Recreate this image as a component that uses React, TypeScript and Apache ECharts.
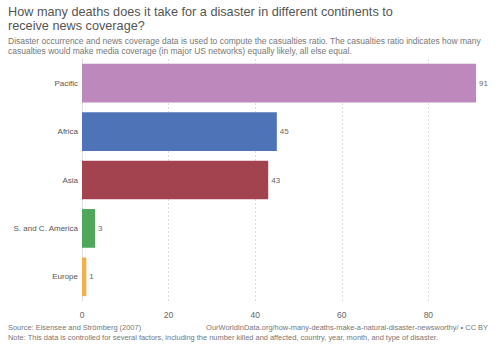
import React, { useEffect, useRef } from "react";
import * as echarts from "echarts";

const categories = ["Pacific", "Africa", "Asia", "S. and C. America", "Europe"];
const values = [91, 45, 43, 3, 1];
const colors = ["#BD88BC", "#4E74B7", "#A3434F", "#4FA75B", "#F3B04A"];
const xTicks = [0, 20, 40, 60, 80];

const titleLines = [
  "How many deaths does it take for a disaster in different continents to",
  "receive news coverage?",
];
const subtitleLines = [
  "Disaster occurrence and news coverage data is used to compute the casualties ratio. The casualties ratio indicates how many",
  "casualties would make media coverage (in major US networks) equally likely, all else equal.",
];
const sourceText = "Source: Eisensee and Strömberg (2007)";
const urlText = "OurWorldInData.org/how-many-deaths-make-a-natural-disaster-newsworthy/ • CC BY";
const noteText =
  "Note: This data is controlled for several factors, including the number killed and affected, country, year, month, and type of disaster.";

export default function App() {
  const ref = useRef<HTMLDivElement>(null);
  useEffect(() => {
    if (!ref.current) return;
    const chart = echarts.init(ref.current, null, { renderer: "svg" });
    const font = "Helvetica, Arial, 'Liberation Sans', sans-serif";
    chart.setOption({
      animation: false,
      backgroundColor: "#ffffff",
      textStyle: { fontFamily: font },
      grid: { left: 82, right: 24, top: 59, bottom: 52, containLabel: false },
      xAxis: {
        type: "value",
        min: 0,
        max: 91,
        interval: 20,
        axisLine: { show: false },
        axisTick: { show: false },
        axisLabel: {
          color: "#666",
          fontSize: 8.5,
          margin: 9,
          showMaxLabel: false,
          formatter: (v: number) => (xTicks.includes(v) ? String(v) : ""),
        },
        splitLine: {
          show: true,
          showMaxLine: false,
          lineStyle: { color: "#dddddd", type: [2, 2], width: 1 },
        },
      },
      yAxis: {
        type: "category",
        data: categories,
        inverse: true,
        axisLine: { show: true, lineStyle: { color: "#e0e0e0", width: 1 } },
        axisTick: { show: false },
        axisLabel: { color: "#555", fontSize: 8, margin: 4 },
      },
      series: [
        {
          type: "bar",
          barCategoryGap: "20%",
          data: values.map((v, i) => ({ value: v, itemStyle: { color: colors[i] } })),
          label: {
            show: true,
            position: "right",
            distance: 3,
            color: "#666",
            fontSize: 8,
          },
        },
      ],
      graphic: [
        {
          type: "text",
          left: 8,
          top: 5,
          style: {
            text: titleLines.join("\n"),
            fill: "#555",
            fontSize: 12.7,
            lineHeight: 14,
            fontFamily: font,
          },
        },
        {
          type: "text",
          left: 8,
          top: 36,
          style: {
            text: subtitleLines.join("\n"),
            fill: "#777",
            fontSize: 8.5,
            lineHeight: 10,
            fontFamily: font,
          },
        },
        {
          type: "text",
          left: 8,
          top: 324,
          style: { text: sourceText, fill: "#777", fontSize: 7.45, fontFamily: font },
        },
        {
          type: "text",
          right: 12,
          top: 324,
          style: { text: urlText, fill: "#777", fontSize: 7.45, fontFamily: font },
        },
        {
          type: "text",
          left: 8,
          top: 334,
          style: { text: noteText, fill: "#777", fontSize: 7.45, fontFamily: font },
        },
      ],
    });
    return () => chart.dispose();
  }, []);
  return <div ref={ref} style={{ width: 500, height: 353, position: "absolute", left: 0, top: 0 }} />;
}
